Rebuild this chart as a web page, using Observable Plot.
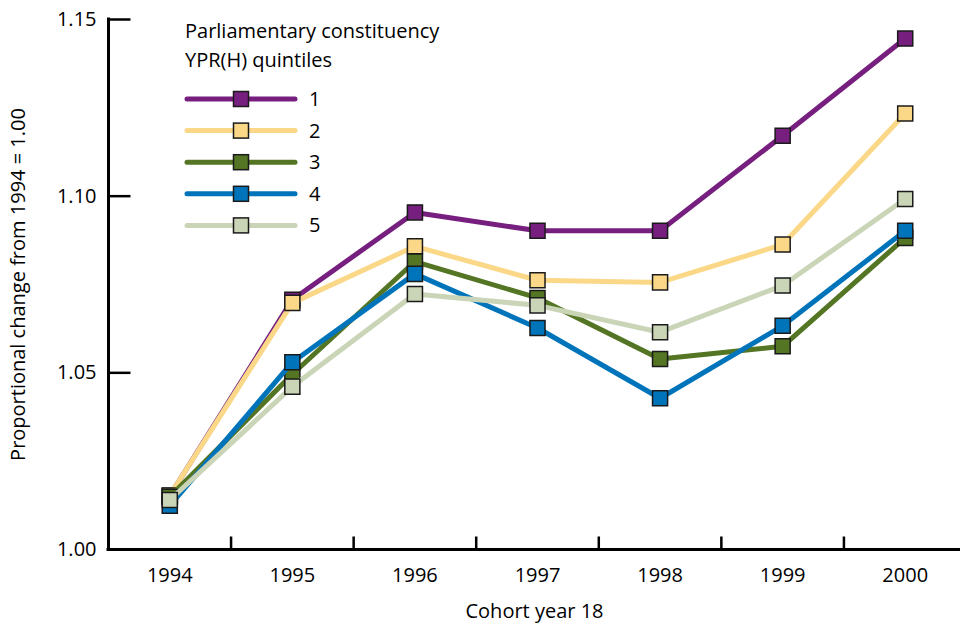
<!DOCTYPE html>
<html>
<head>
<meta charset="utf-8">
<script src="https://cdn.jsdelivr.net/npm/d3@7"></script>
<script src="https://cdn.jsdelivr.net/npm/@observablehq/plot@0.6"></script>
<style>
  html, body { margin: 0; padding: 0; background: #fff; }
  #chart svg { display: block; }
</style>
</head>
<body>
<div id="chart"></div>
<script>
// ---- data ----
const years = [1994, 1995, 1996, 1997, 1998, 1999, 2000];
const quintiles = ["1", "2", "3", "4", "5"];
const q1 = [1.0152, 1.0707, 1.0954, 1.0902, 1.0902, 1.1171, 1.1446];
const q2 = [1.0153, 1.0698, 1.0858, 1.0762, 1.0756, 1.0863, 1.1234];
const q3 = [1.0149, 1.0496, 1.0815, 1.0712, 1.0539, 1.0575, 1.0882];
const q4 = [1.0124, 1.0530, 1.0780, 1.0627, 1.0428, 1.0633, 1.0902];
const q5 = [1.0140, 1.0461, 1.0723, 1.0691, 1.0615, 1.0747, 1.0992];
const colors = ["#761f7f", "#fbd888", "#547523", "#0074ba", "#cad5b8"];
const yTicks = [1.00, 1.05, 1.10, 1.15];
const legendTitle = ["Parliamentary constituency", "YPR(H) quintiles"];
const xLabel = "Cohort year 18";
const yLabel = "Proportional change from 1994 = 1.00";

const seriesValues = [q1, q2, q3, q4, q5];
const series = quintiles.map((q, i) => ({
  name: q, color: colors[i],
  data: years.map((yr, j) => ({year: yr, value: seriesValues[i][j], q}))
}));

const xMin = years[0] - 0.5, xMax = years[years.length - 1] + 0.5;
const boundaries = years.slice(0, -1).map(y => y + 0.5);

const tickShape = {draw(ctx, l) { ctx.moveTo(0, 0); ctx.lineTo(0, -l); }};
const FONT = "Open Sans";
const FS = 20;

const marks = [];
// axis lines
marks.push(Plot.ruleY([yTicks[0]], {stroke: "#000", strokeWidth: 3, strokeLinecap: "square"}));
marks.push(Plot.ruleX([xMin], {stroke: "#000", strokeWidth: 3, strokeLinecap: "square"}));
// inward ticks
marks.push(Plot.vector(yTicks.slice(1), {y: d => d, frameAnchor: "left", rotate: 90, length: 22, anchor: "start", shape: tickShape, stroke: "#000", strokeWidth: 2.5, strokeLinecap: "butt"}));
marks.push(Plot.vector(boundaries, {x: d => d, frameAnchor: "bottom", rotate: 0, length: 13, anchor: "start", shape: tickShape, stroke: "#000", strokeWidth: 2.5, strokeLinecap: "butt"}));
// axes labels
marks.push(Plot.axisY({ticks: yTicks, tickFormat: d3.format(".2f"), tickSize: 0, tickPadding: 12, label: yLabel, labelAnchor: "center", labelArrow: "none", labelOffset: 98, fontSize: FS}));
marks.push(Plot.axisX({ticks: years, tickFormat: d => String(d), tickSize: 0, tickPadding: 18, label: xLabel, labelAnchor: "center", labelArrow: "none", labelOffset: 68, fontSize: FS}));
// series
for (const s of series) {
  marks.push(Plot.line(s.data, {x: "year", y: "value", stroke: s.color, strokeWidth: 5, strokeLinejoin: "round", strokeLinecap: "round"}));
  marks.push(Plot.dot(s.data, {x: "year", y: "value", symbol: "square", r: 8.5, fill: s.color, stroke: "#1a1a1a", strokeWidth: 1.5}));
}

const chart = Plot.plot({
  width: 960,
  height: 623,
  marginLeft: 108,
  marginRight: 0,
  marginTop: 19,
  marginBottom: 74,
  style: {fontFamily: FONT, fontSize: FS + "px", color: "#000", background: "#fff", overflow: "hidden"},
  x: {type: "linear", domain: [xMin, xMax], range: [108, 966], axis: null},
  y: {domain: [yTicks[0], yTicks[yTicks.length - 1]], axis: null},
  marks
});
document.getElementById("chart").appendChild(chart);

// ---- legend (drawn into the svg) ----
const svg = d3.select(chart);
const lg = svg.append("g").attr("font-family", FONT).attr("font-size", FS).attr("fill", "#000").attr("text-anchor", "start");
lg.selectAll("text.ltitle").data(legendTitle).join("text")
  .attr("class", "ltitle")
  .attr("x", 185).attr("y", (d, i) => 38 + i * 29)
  .text(d => d);
const item = lg.selectAll("g.item").data(series).join("g")
  .attr("class", "item")
  .attr("transform", (d, i) => `translate(0,${99 + i * 31.6})`);
item.append("line").attr("x1", 187).attr("x2", 295).attr("y1", 0).attr("y2", 0)
  .attr("stroke", d => d.color).attr("stroke-width", 5).attr("stroke-linecap", "round");
item.append("rect").attr("x", 241 - 7.5).attr("y", -7.5).attr("width", 15).attr("height", 15)
  .attr("fill", d => d.color).attr("stroke", "#1a1a1a").attr("stroke-width", 1.5);
item.append("text").attr("x", 309).attr("y", 0).attr("dy", "0.35em").text(d => d.name);
</script>
</body>
</html>
